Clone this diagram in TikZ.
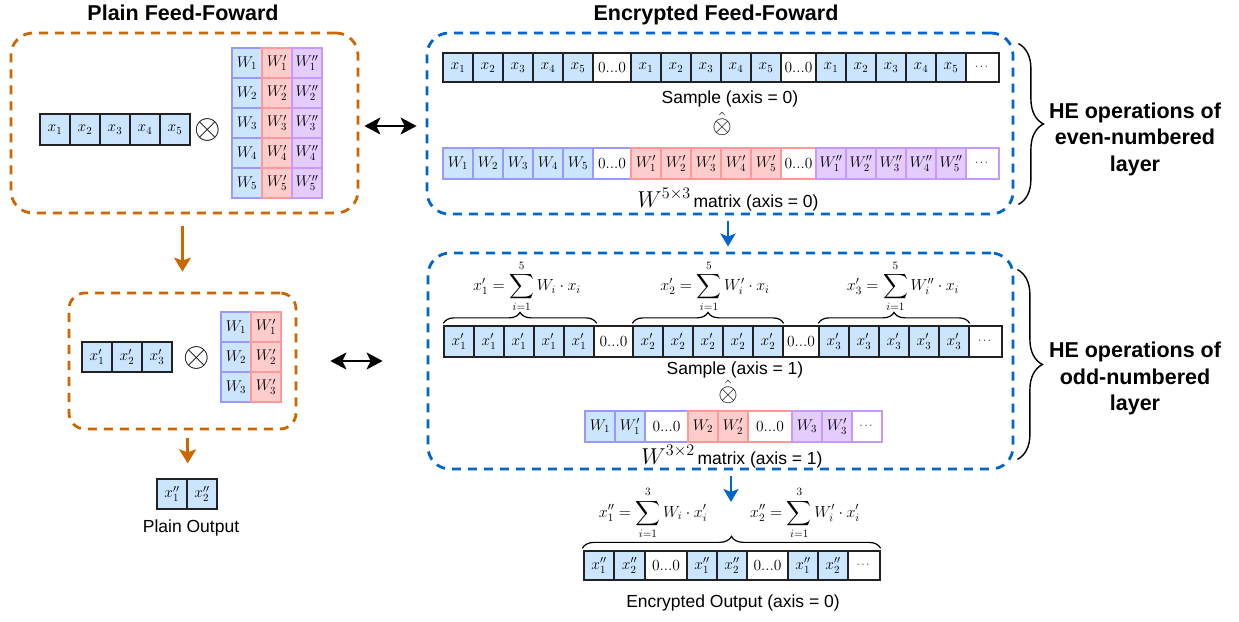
\RequirePackage{fix-cm}
\documentclass[tikz,border=0pt]{standalone}
\usepackage{amsmath}
\usepackage{fontspec}
\setmainfont{Liberation Sans}
\usetikzlibrary{arrows.meta,decorations.pathreplacing,calc}

\definecolor{plainorange}{HTML}{CC6600}
\definecolor{encblue}{HTML}{0066CC}
\definecolor{cellblue}{HTML}{CCE5FF}
\definecolor{edgeblue}{HTML}{9999FF}
\definecolor{cellred}{HTML}{FFCCCC}
\definecolor{edgered}{HTML}{FF9999}
\definecolor{cellpurple}{HTML}{E5CCFF}
\definecolor{edgepurple}{HTML}{C599FF}
\definecolor{celledge}{HTML}{222222}

\newcommand{\celldots}{{\fontsize{11}{11}\selectfont$\cdots$}}

\begin{document}
\begin{tikzpicture}[x=1pt,y=-1pt,
  cell/.style={rectangle, inner sep=0pt, line width=1.3pt,
    font=\fontsize{15.5}{15.5}\selectfont},
  plainbox/.style={draw=plainorange, line width=2.8pt, dash pattern=on 9pt off 7pt,
    rounded corners=22pt, inner sep=0pt},
  encbox/.style={draw=encblue, line width=2.8pt, dash pattern=on 9pt off 7pt,
    rounded corners=22pt, inner sep=0pt},
  title/.style={font=\fontsize{21.5}{21.5}\selectfont\bfseries, anchor=base},
  caption/.style={font=\fontsize{17.5}{17.5}\selectfont, anchor=base},
  sidenote/.style={font=\fontsize{21.5}{26.5}\selectfont\bfseries, align=center},
  formula/.style={font=\fontsize{16}{16}\selectfont, inner sep=0pt},
  bigop/.style={inner sep=0pt, font=\fontsize{34}{34}\selectfont},
  hatop/.style={inner sep=0pt, font=\fontsize{25}{25}\selectfont},
  brc/.style={decorate, decoration={brace, amplitude=11pt}, line width=1.2pt},
  sidebrc/.style={decorate, decoration={brace, amplitude=25pt}, line width=1.4pt},
  oarrow/.style={draw=plainorange, line width=2.5pt,
    -{Stealth[length=14pt,width=17pt,inset=3pt]}},
  barrow/.style={draw=encblue, line width=2.5pt,
    -{Stealth[length=13pt,width=15pt,inset=3pt]}},
  twoway/.style={draw=black, line width=2pt,
    {Stealth[length=16pt,width=17pt,inset=4pt]}-{Stealth[length=16pt,width=17pt,inset=4pt]}},
]
\useasboundingbox (0,0) rectangle (1239,621);

% ---------------- titles ----------------
\node[title] (tplain) at (183,20) {Plain Feed-Foward};
\node[title] (tenc) at (716,20) {Encrypted Feed-Foward};

% ---------------- frames ----------------
\node[plainbox, minimum width=347pt, minimum height=180pt] (pbox1) at (184.5,123) {};
\node[plainbox, minimum width=227pt, minimum height=136pt, rounded corners=16pt] (pbox2) at (182.5,361) {};
\node[encbox, minimum width=586pt, minimum height=181pt] (ebox1) at (720,123.5) {};
\node[encbox, minimum width=585pt, minimum height=216pt] (ebox2) at (720.5,361) {};

% ---------------- plain layer 1 ----------------
\foreach \lft/\txt [count=\k] in {40/{$x_1$},70/{$x_2$},100/{$x_3$},130/{$x_4$},160/{$x_5$}}
  \node[cell, draw=celledge, fill=cellblue, minimum width=30pt, minimum height=31pt]
    (pa\k) at (\lft+15,129.5) {\txt};
\node[bigop] (pop1) at (208,130) {$\otimes$};
\foreach \r [count=\k] in {1,...,5}{
  \node[cell, draw=edgeblue, fill=cellblue, minimum width=30pt, minimum height=30pt]
    (pw\k a) at (247,33+30*\r) {$W_{\r}$};
  \node[cell, draw=edgered, fill=cellred, minimum width=30pt, minimum height=30pt]
    (pw\k b) at (277,33+30*\r) {$W'_{\r}$};
  \node[cell, draw=edgepurple, fill=cellpurple, minimum width=30pt, minimum height=30pt]
    (pw\k c) at (307,33+30*\r) {$W''_{\r}$};
}

% ---------------- plain layer 2 ----------------
\foreach \lft/\txt [count=\k] in {82/{$x'_1$},112/{$x'_2$},142/{$x'_3$}}
  \node[cell, draw=celledge, fill=cellblue, minimum width=30pt, minimum height=30pt]
    (pb\k) at (\lft+15,357) {\txt};
\node[bigop] (pop2) at (197,358) {$\otimes$};
\foreach \r [count=\k] in {1,2,3}{
  \node[cell, draw=edgeblue, fill=cellblue, minimum width=30pt, minimum height=30pt]
    (pv\k a) at (236,297+30*\r) {$W_{\r}$};
  \node[cell, draw=edgered, fill=cellred, minimum width=30pt, minimum height=30pt]
    (pv\k b) at (266,297+30*\r) {$W'_{\r}$};
}

% ---------------- plain output ----------------
\node[cell, draw=celledge, fill=cellblue, minimum width=30pt, minimum height=30pt]
  (pc1) at (172,494) {$x''_1$};
\node[cell, draw=celledge, fill=cellblue, minimum width=30pt, minimum height=30pt]
  (pc2) at (202,494) {$x''_2$};
\node[caption] (tpout) at (191,532) {Plain Output};

% ---------------- encrypted even layer ----------------
\foreach \lft/\cw/\fc/\txt [count=\k] in {
  443/30/cellblue/{$x_1$},473/30/cellblue/{$x_2$},503/30/cellblue/{$x_3$},
  533/30/cellblue/{$x_4$},563/30/cellblue/{$x_5$},593/38/white/{$0...0$},
  631/30/cellblue/{$x_1$},661/30/cellblue/{$x_2$},691/30/cellblue/{$x_3$},
  721/30/cellblue/{$x_4$},751/30/cellblue/{$x_5$},781/35/white/{$0...0$},
  816/30/cellblue/{$x_1$},846/30/cellblue/{$x_2$},876/30/cellblue/{$x_3$},
  906/30/cellblue/{$x_4$},936/30/cellblue/{$x_5$},966/33/white/{\celldots}}
  \node[cell, draw=celledge, fill=\fc, minimum width=\cw pt, minimum height=29pt]
    (ea\k) at (\lft+\cw/2,67.5) {\txt};
\node[caption] (tsa0) at (730,103) {Sample (axis = 0)};
\node[hatop] (eop1) at (722,124) {$\hat{\otimes}$};
\foreach \lft/\cw/\fc/\dc/\txt [count=\k] in {
  443/30/cellblue/edgeblue/{$W_1$},473/30/cellblue/edgeblue/{$W_2$},
  503/30/cellblue/edgeblue/{$W_3$},533/30/cellblue/edgeblue/{$W_4$},
  563/30/cellblue/edgeblue/{$W_5$},593/38/white/edgeblue/{$0...0$},
  631/30/cellred/edgered/{$W'_1$},661/30/cellred/edgered/{$W'_2$},
  691/30/cellred/edgered/{$W'_3$},721/30/cellred/edgered/{$W'_4$},
  751/30/cellred/edgered/{$W'_5$},781/35/white/edgered/{$0...0$},
  816/30/cellpurple/edgepurple/{$W''_1$},846/30/cellpurple/edgepurple/{$W''_2$},
  876/30/cellpurple/edgepurple/{$W''_3$},906/30/cellpurple/edgepurple/{$W''_4$},
  936/30/cellpurple/edgepurple/{$W''_5$},966/33/white/edgepurple/{\celldots}}
  \node[cell, draw=\dc, fill=\fc, minimum width=\cw pt, minimum height=31pt]
    (eb\k) at (\lft+\cw/2,163.5) {\txt};
\node[caption] (tmat0) at (728,207)
  {{\fontsize{23}{23}\selectfont$W^{5\times3}$}\,matrix (axis = 0)};

% ---------------- encrypted odd layer ----------------
\node[formula] (fx1) at (527,286.5) {$\displaystyle x'_1=\sum_{i=1}^{5}W_i\cdot x_i$};
\node[formula] (fx2) at (715,286.5) {$\displaystyle x'_2=\sum_{i=1}^{5}W'_i\cdot x_i$};
\node[formula] (fx3) at (903,286.5) {$\displaystyle x'_3=\sum_{i=1}^{5}W''_i\cdot x_i$};
\foreach \lft/\cw/\fc/\txt [count=\k] in {
  444/30/cellblue/{$x'_1$},474/30/cellblue/{$x'_1$},504/30/cellblue/{$x'_1$},
  534/30/cellblue/{$x'_1$},564/30/cellblue/{$x'_1$},594/39/white/{$0...0$},
  633/30/cellblue/{$x'_2$},663/30/cellblue/{$x'_2$},693/30/cellblue/{$x'_2$},
  723/30/cellblue/{$x'_2$},753/30/cellblue/{$x'_2$},783/36/white/{$0...0$},
  819/30/cellblue/{$x'_3$},849/30/cellblue/{$x'_3$},879/30/cellblue/{$x'_3$},
  909/30/cellblue/{$x'_3$},939/30/cellblue/{$x'_3$},969/33/white/{\celldots}}
  \node[cell, draw=celledge, fill=\fc, minimum width=\cw pt, minimum height=31pt]
    (ec\k) at (\lft+\cw/2,341.5) {\txt};
\draw[brc] ([yshift=2pt]ec1.north west) -- ([xshift=2pt,yshift=2pt]ec5.north east);
\draw[brc] ([yshift=2pt]ec7.north west) -- ([yshift=2pt]ec11.north east);
\draw[brc] ([yshift=2pt]ec13.north west) -- ([yshift=2pt]ec17.north east);
\node[caption] (tsa1) at (735,374) {Sample (axis = 1)};
\node[hatop] (eop2) at (728,392) {$\hat{\otimes}$};
\foreach \lft/\cw/\fc/\dc/\txt [count=\k] in {
  585/30/cellblue/edgeblue/{$W_1$},615/30/cellblue/edgeblue/{$W'_1$},
  645/43/white/edgeblue/{$0...0$},
  688/30/cellred/edgered/{$W_2$},718/30/cellred/edgered/{$W'_2$},
  748/44/white/edgered/{$0...0$},
  792/30/cellpurple/edgepurple/{$W_3$},822/30/cellpurple/edgepurple/{$W'_3$},
  852/30/white/edgepurple/{\celldots}}
  \node[cell, draw=\dc, fill=\fc, minimum width=\cw pt, minimum height=31pt]
    (ed\k) at (\lft+\cw/2,426.5) {\txt};
\node[caption] (tmat1) at (732,464)
  {{\fontsize{23}{23}\selectfont$W^{3\times2}$}\,matrix (axis = 1)};

% ---------------- encrypted output ----------------
\coordinate (outtop) at (731,502);
\node[formula] (fy1) at (653,513) {$\displaystyle x''_1=\sum_{i=1}^{3}W_i\cdot x'_i$};
\node[formula] (fy2) at (805,513) {$\displaystyle x''_2=\sum_{i=1}^{3}W'_i\cdot x'_i$};
\foreach \lft/\cw/\fc/\txt [count=\k] in {
  584/30/cellblue/{$x''_1$},614/31/cellblue/{$x''_2$},645/42/white/{$0...0$},
  687/30/cellblue/{$x''_1$},717/30/cellblue/{$x''_2$},747/41/white/{$0...0$},
  788/30/cellblue/{$x''_1$},818/30/cellblue/{$x''_2$},848/32/white/{\celldots}}
  \node[cell, draw=celledge, fill=\fc, minimum width=\cw pt, minimum height=29pt]
    (ee\k) at (\lft+\cw/2,565.5) {\txt};
\draw[brc, decoration={amplitude=12pt}] ([xshift=-1pt,yshift=2pt]ee1.north west) -- ([yshift=2pt]ee9.north east);
\node[caption] (teout) at (733,607) {Encrypted Output (axis = 0)};

% ---------------- side notes ----------------
\draw[sidebrc] ([xshift=4pt,yshift=-12pt]ebox1.north east) -- ([xshift=4pt,yshift=11pt]ebox1.south east);
\node[sidenote] (neven) at (1135,139) {HE operations of\\even-numbered\\layer};
\draw[sidebrc] ([xshift=3pt,yshift=-18pt]ebox2.north east) -- ([xshift=3pt,yshift=11pt]ebox2.south east);
\node[sidenote] (nodd) at (1135,378.5) {HE operations of\\odd-numbered\\layer};

% ---------------- connectors ----------------
\draw[oarrow, shorten <=12pt, shorten >=20pt] (pbox2.north |- pbox1.south) -- (pbox2.north);
\draw[oarrow, shorten <=8pt, shorten >=15pt] (pc1.north east |- pbox2.south) -- (pc1.north east);
\draw[twoway, shorten <=5pt, shorten >=9pt] ([yshift=-3pt]pbox1.east) -- ([yshift=-3pt]pbox1.east -| ebox1.west);
\draw[twoway, shorten <=33pt, shorten >=44pt] (pbox2.east) -- (pbox2.east -| ebox2.west);
\draw[barrow, shorten <=6pt, shorten >=5pt] ([xshift=8pt]ebox1.south) -- ([xshift=8pt]ebox1.south |- ebox2.north);
\draw[barrow, shorten <=6pt] (outtop |- ebox2.south) -- (outtop);
\end{tikzpicture}
\end{document}
